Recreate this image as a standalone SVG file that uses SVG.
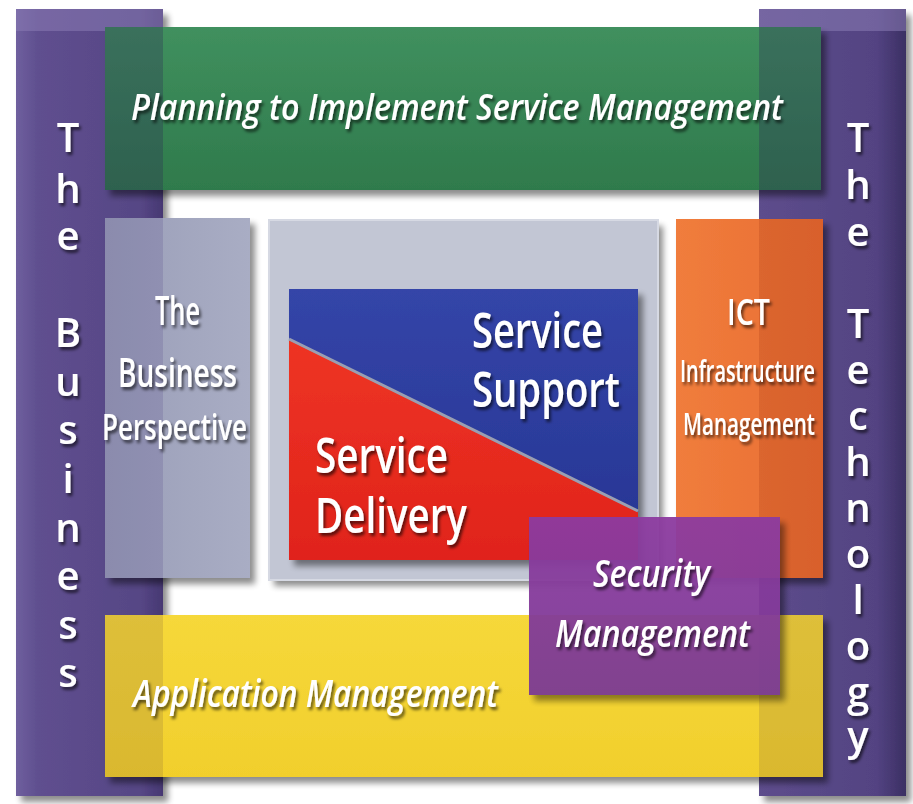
<svg xmlns="http://www.w3.org/2000/svg" width="913" height="804" viewBox="0 0 913 804">
<defs>
<filter id="sh" x="-10%" y="-10%" width="130%" height="130%">
<feGaussianBlur in="SourceAlpha" stdDeviation="3"/>
<feOffset dx="5" dy="6" result="b"/>
<feComponentTransfer><feFuncA type="linear" slope="0.45"/></feComponentTransfer>
<feMerge><feMergeNode/><feMergeNode in="SourceGraphic"/></feMerge>
</filter>
<filter id="ts" x="-10%" y="-20%" width="130%" height="150%">
<feDropShadow dx="2" dy="3" stdDeviation="1.5" flood-color="#000" flood-opacity="0.6"/>
</filter>
<linearGradient id="barL" x1="0" y1="0" x2="1" y2="0">
<stop offset="0" stop-color="#6f5f9e"/><stop offset="0.15" stop-color="#5f4f8f"/><stop offset="0.85" stop-color="#564685"/><stop offset="1" stop-color="#463872"/>
</linearGradient>
<linearGradient id="barR" x1="0" y1="0" x2="1" y2="0">
<stop offset="0" stop-color="#5d4d8c"/><stop offset="0.8" stop-color="#534382"/><stop offset="1" stop-color="#3b2f63"/>
</linearGradient>
<linearGradient id="grn" x1="0" y1="0" x2="0" y2="1">
<stop offset="0" stop-color="#40905e"/><stop offset="1" stop-color="#2f7a4c"/>
</linearGradient>
<linearGradient id="gry" x1="0" y1="0" x2="1" y2="0">
<stop offset="0" stop-color="#9a9eb8"/><stop offset="1" stop-color="#a9adc4"/>
</linearGradient>
<linearGradient id="org" x1="0" y1="0" x2="1" y2="0">
<stop offset="0" stop-color="#f07d3c"/><stop offset="1" stop-color="#e96d33"/>
</linearGradient>
<linearGradient id="yel" x1="0" y1="0" x2="0" y2="1">
<stop offset="0" stop-color="#f6d83a"/><stop offset="1" stop-color="#f1cf2c"/>
</linearGradient>
<linearGradient id="prp" x1="0" y1="0" x2="0" y2="1">
<stop offset="0" stop-color="#8d3aa0"/><stop offset="1" stop-color="#7a3a94"/>
</linearGradient>
<linearGradient id="blu" x1="0" y1="0" x2="0" y2="1">
<stop offset="0" stop-color="#3445a8"/><stop offset="1" stop-color="#283796"/>
</linearGradient>
<linearGradient id="red" x1="0" y1="0" x2="0" y2="1">
<stop offset="0" stop-color="#ee3424"/><stop offset="1" stop-color="#e0231b"/>
</linearGradient>
</defs>
<style>
.v{font-family:"Open Sans","Liberation Sans",sans-serif;font-size:40px;font-weight:600;fill:#fff;text-anchor:middle;filter:url(#ts)}
.it{font-family:"Open Sans","Liberation Sans",sans-serif;font-style:italic;font-weight:600;fill:#fff;filter:url(#ts)}
.t{font-family:"Open Sans","Liberation Sans",sans-serif;font-weight:600;fill:#fff;filter:url(#ts)}
.ov{fill:#2a1f55;opacity:0.28}
</style>
<rect width="913" height="804" fill="#fff"/>

<g id="the-business">
<rect x="16" y="9" width="147" height="787" fill="url(#barL)" filter="url(#sh)"/>
<rect x="16" y="9" width="147" height="22" fill="#8a7cb4" opacity="0.55"/>
<text class="v" x="68" y="152">T</text>
<text class="v" x="68" y="203">h</text>
<text class="v" x="68" y="250">e</text>
<text class="v" x="68" y="347">B</text>
<text class="v" x="68" y="396">u</text>
<text class="v" x="68" y="444">s</text>
<text class="v" x="68" y="493">i</text>
<text class="v" x="68" y="542">n</text>
<text class="v" x="68" y="590">e</text>
<text class="v" x="68" y="639">s</text>
<text class="v" x="68" y="687">s</text>
</g>

<g id="the-technology">
<rect x="759" y="9" width="147" height="787" fill="url(#barR)" filter="url(#sh)"/>
<rect x="759" y="9" width="147" height="22" fill="#8a7cb4" opacity="0.55"/>
<text class="v" x="858" y="152">T</text>
<text class="v" x="858" y="199">h</text>
<text class="v" x="858" y="246">e</text>
<text class="v" x="858" y="338">T</text>
<text class="v" x="858" y="384">e</text>
<text class="v" x="858" y="430">c</text>
<text class="v" x="858" y="476">h</text>
<text class="v" x="858" y="522">n</text>
<text class="v" x="858" y="568">o</text>
<text class="v" x="858" y="614">l</text>
<text class="v" x="858" y="660">o</text>
<text class="v" x="858" y="706">g</text>
<text class="v" x="858" y="750">y</text>
</g>

<g id="planning">
<rect x="105" y="27" width="716" height="163" fill="url(#grn)" filter="url(#sh)"/>
<rect x="105" y="27" width="58" height="163" class="ov"/>
<rect x="759" y="27" width="62" height="163" class="ov"/>
<text class="it" x="131" y="120" font-size="36" textLength="652" lengthAdjust="spacingAndGlyphs">Planning to Implement Service Management</text>
</g>

<g id="business-perspective">
<rect x="105" y="218" width="145" height="360" fill="url(#gry)" filter="url(#sh)"/>
<rect x="105" y="218" width="58" height="360" fill="#4a3a80" opacity="0.18"/>
<text class="t" x="155" y="325" font-size="40" textLength="45" lengthAdjust="spacingAndGlyphs">The</text>
<text class="t" x="118" y="387" font-size="40" textLength="119" lengthAdjust="spacingAndGlyphs">Business</text>
<text class="t" x="102" y="440" font-size="36" textLength="145" lengthAdjust="spacingAndGlyphs">Perspective</text>
</g>

<g id="service-core">
<rect x="269" y="220" width="389" height="360" fill="#c2c6d4" filter="url(#sh)"/>
<rect x="269" y="220" width="389" height="360" fill="none" stroke="#d6d9e3" stroke-width="2"/>
<g filter="url(#sh)">
<polygon points="289,289 638,289 638,512 289,340" fill="url(#blu)"/>
<polygon points="289,340 638,512 638,560 289,560" fill="url(#red)"/>
</g>
<line x1="289" y1="339" x2="638" y2="511" stroke="#9a9fb2" stroke-width="3"/>
</g>

<g id="service-support">
<text class="t" x="472" y="348" font-size="48" textLength="131" lengthAdjust="spacingAndGlyphs">Service</text>
<text class="t" x="472" y="407" font-size="48" textLength="148" lengthAdjust="spacingAndGlyphs">Support</text>
</g>

<g id="service-delivery">
<text class="t" x="315" y="473" font-size="48" textLength="133" lengthAdjust="spacingAndGlyphs">Service</text>
<text class="t" x="315" y="533" font-size="48" textLength="152" lengthAdjust="spacingAndGlyphs">Delivery</text>
</g>

<g id="ict">
<rect x="676" y="219" width="147" height="359" fill="url(#org)" filter="url(#sh)"/>
<rect x="759" y="219" width="64" height="359" fill="#a03010" opacity="0.22"/>
<text class="t" x="727" y="325" font-size="36" textLength="43" lengthAdjust="spacingAndGlyphs">ICT</text>
<text class="t" x="680" y="382" font-size="30" textLength="135" lengthAdjust="spacingAndGlyphs">Infrastructure</text>
<text class="t" x="683" y="435" font-size="30" textLength="132" lengthAdjust="spacingAndGlyphs">Management</text>
</g>

<g id="application">
<rect x="105" y="615" width="718" height="162" fill="url(#yel)" filter="url(#sh)"/>
<rect x="105" y="615" width="58" height="162" fill="#8a6a3a" opacity="0.22"/>
<rect x="759" y="615" width="64" height="162" fill="#8a6a3a" opacity="0.22"/>
<text class="it" x="133" y="707" font-size="37" textLength="365" lengthAdjust="spacingAndGlyphs">Application Management</text>
</g>

<g id="security">
<rect x="529" y="517" width="251" height="178" fill="url(#prp)" filter="url(#sh)" opacity="0.95"/>
<text class="it" x="593" y="587" font-size="38" textLength="117" lengthAdjust="spacingAndGlyphs">Security</text>
<text class="it" x="555" y="647" font-size="38" textLength="195" lengthAdjust="spacingAndGlyphs">Management</text>
</g>

<g id="connectors"></g>
</svg>
